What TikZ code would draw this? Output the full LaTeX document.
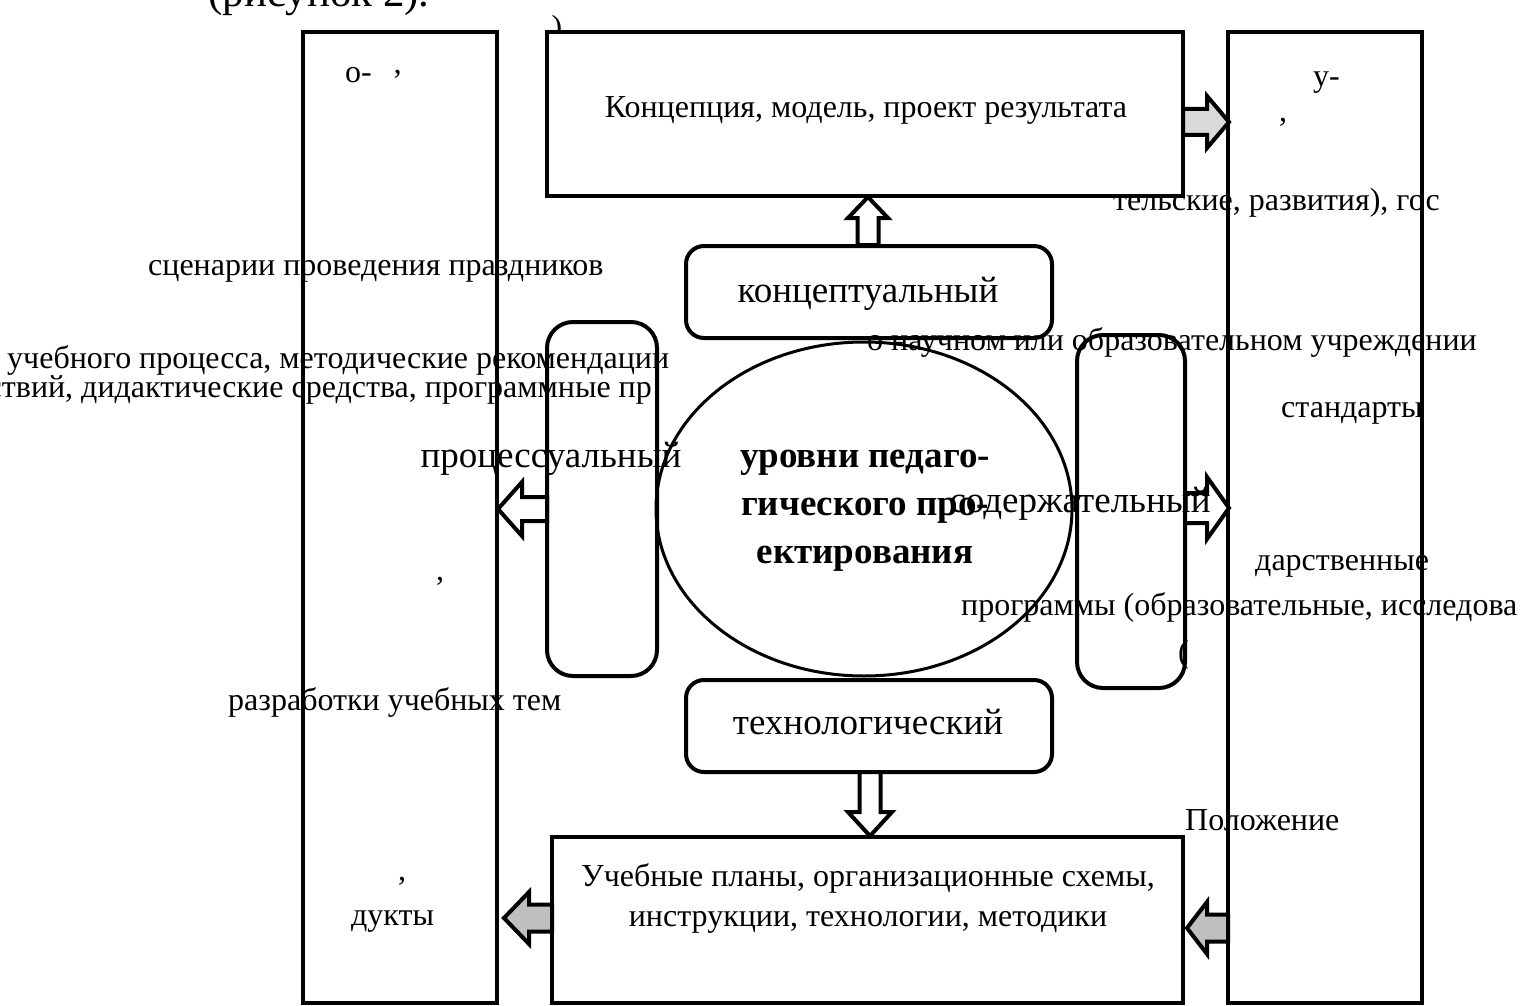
\documentclass[tikz,border=0pt]{standalone}
\usepackage{fontspec}
\setmainfont{Liberation Serif}
\usetikzlibrary{shapes.geometric}
\begin{document}
\begin{tikzpicture}[x=1pt,y=-1pt,
  box/.style={draw, line width=4pt, inner sep=0pt, outer sep=0pt, anchor=north west},
  rbox/.style={box, rounded corners=18pt},
  vbox/.style={box, rounded corners=26pt},
  note/.style={font=\fontsize{32}{40}\selectfont, inner sep=0pt, anchor=base west},
  noter/.style={note, anchor=base east},
  level/.style={font=\fontsize{37}{44}\selectfont, inner sep=0pt, anchor=base},
  warrow/.style={draw, line width=4pt, fill=white, line join=miter},
  garrowA/.style={warrow, fill=black!15},
  garrowB/.style={warrow, fill=black!25},
]
\useasboundingbox (0,0) rectangle (1523,1006);

% free text (behind the boxes)
\node[font=\fontsize{43}{50}\selectfont, inner sep=0pt, anchor=base west] (fig) at (208,7) {(рисунок 2).};
\node[font=\fontsize{32}{40}\selectfont, inner sep=0pt, anchor=base] (par) at (557,38) {)};
\node[note] (t1) at (345,83) {о-};
\node[note] (t2) at (392,92) {’};
\node[note] (t3) at (148,275) {сценарии проведения праздников};
\node[note] (t4) at (7,368) {учебного процесса, методические рекомендации};
\node[noter] (t5) at (652,397) {ствий, дидактические средства, программные пр};
\node[note] (t6) at (436,580) {,};
\node[note] (t7) at (228,710) {разработки учебных тем};
\node[note] (t8) at (398,880) {,};
\node[note] (t9) at (351,925) {дукты};

\node[note] (r1) at (1313,87) {у-};
\node[note] (r2) at (1279,122) {,};
\node[noter] (r3) at (1440,210) {тельские, развития), гос};
\node[note] (r4) at (867,350) {о научном или образовательном учреждении};
\node[note] (r5) at (1281,417) {стандарты};
\node[note] (r6) at (1255,570) {дарственные};
\node[note] (r7) at (961,615) {программы (образовательные, исследова};
\node[note] (r8) at (1178,662) {(};
\node[note] (r9) at (1185,830) {Положение};

% big side boxes
\node[box, minimum width=194pt, minimum height=971pt] (L) at (303,32) {};
\node[box, minimum width=194pt, minimum height=971pt] (R) at (1228,32) {};

% result boxes
\node[box, fill=white, minimum width=636pt, minimum height=164pt] (T) at (547,32) {};
\node[font=\fontsize{32}{40}\selectfont, inner sep=0pt, anchor=base] (Ttext) at (866,118) {Концепция, модель, проект результата};
\node[box, fill=white, minimum width=631pt, minimum height=166pt] (B) at (552,837) {};
\node[font=\fontsize{32}{40}\selectfont, inner sep=0pt, anchor=base] (Btext1) at (868,886) {Учебные планы, организационные схемы,};
\node[font=\fontsize{32}{40}\selectfont, inner sep=0pt, anchor=base] (Btext2) at (868,926) {инструкции, технологии, методики};

% level boxes
\node[rbox, minimum width=366pt, minimum height=92pt] (K) at (686,246) {};
\node[rbox, minimum width=366pt, minimum height=92pt] (Tech) at (686,680) {};
\node[vbox, minimum width=110pt, minimum height=354pt] (P) at (547,322) {};
\node[vbox, minimum width=108pt, minimum height=353pt] (S) at (1077,335) {};

% ellipse
\node[draw, ellipse, line width=3pt, inner sep=0pt, minimum width=416pt, minimum height=334pt] (E) at (864,509) {};

% block arrows
\coordinate (aTR) at (1229,122);
\draw[garrowA, shift={(aTR)}] (0,0) -- (-22,-26) -- (-22,-13) -- (-46,-13) -- (-46,13) -- (-22,13) -- (-22,26) -- cycle;
\coordinate (aUp) at (868,197);
\draw[warrow, shift={(aUp)}] (0,0) -- (-20,21) -- (-10.5,21) -- (-10.5,48) -- (10.5,48) -- (10.5,21) -- (20,21) -- cycle;
\coordinate (aL) at (498,509);
\draw[warrow, shift={(aL)}] (0,0) -- (24,-27) -- (24,-12) -- (49,-12) -- (49,12) -- (24,12) -- (24,27) -- cycle;
\coordinate (aR) at (1229,508);
\draw[warrow, shift={(aR)}] (0,0) -- (-22,-31) -- (-22,-15) -- (-44,-15) -- (-44,15) -- (-22,15) -- (-22,31) -- cycle;
\coordinate (aDn) at (870,836);
\draw[warrow, shift={(aDn)}] (0,0) -- (-22,-24) -- (-10.5,-24) -- (-10.5,-64) -- (10.5,-64) -- (10.5,-24) -- (22,-24) -- cycle;
\coordinate (aBL) at (504,918);
\draw[garrowB, shift={(aBL)}] (0,0) -- (25,-26) -- (25,-13.5) -- (48,-13.5) -- (48,13.5) -- (25,13.5) -- (25,26) -- cycle;
\coordinate (aBR) at (1187,928);
\draw[garrowB, shift={(aBR)}] (0,0) -- (20,-26) -- (20,-13.5) -- (41,-13.5) -- (41,13.5) -- (20,13.5) -- (20,26) -- cycle;

% level labels (on top)
\node[level] (Kl) at (868,302) {концептуальный};
\node[level] (Tl) at (868,734) {технологический};
\node[level] (Pl) at (551,467) {процессуальный};
\node[level] (Sl) at (1080,512) {содержательный};
\node[font=\fontsize{37}{48}\bfseries\selectfont, inner sep=0pt, align=center] (title) at (865,511) {уровни педаго-\\гического про-\\ектирования};
\end{tikzpicture}
\end{document}
